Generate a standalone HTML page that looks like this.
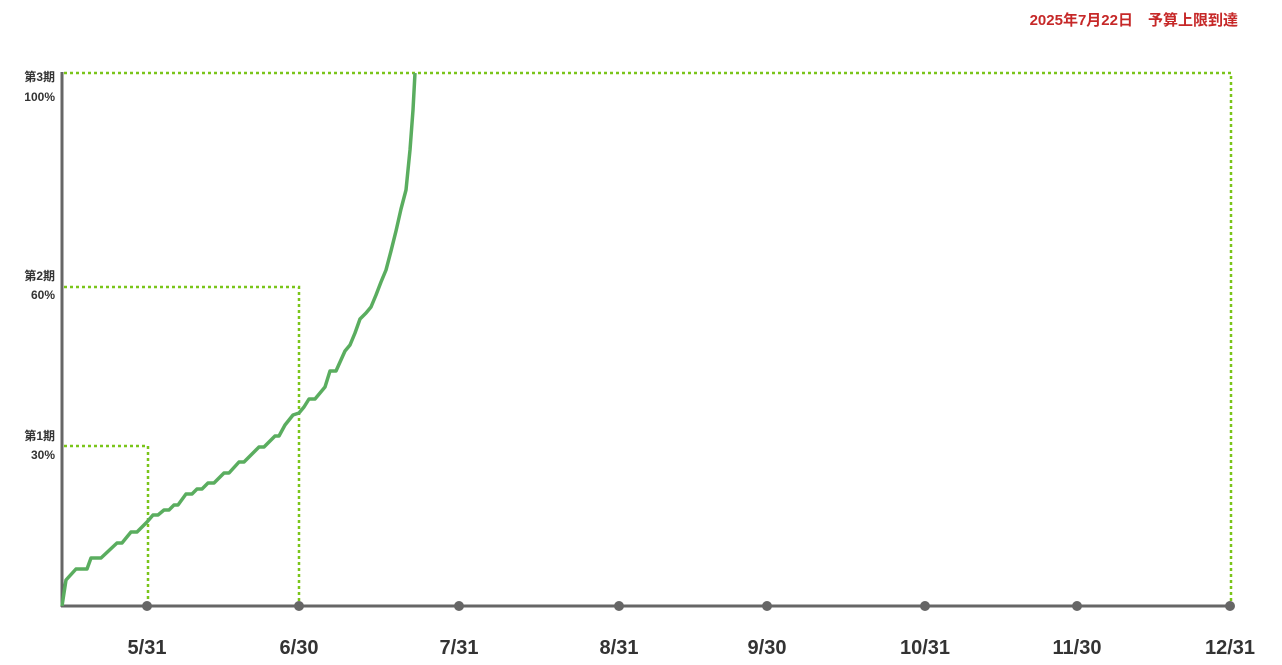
<!DOCTYPE html>
<html><head><meta charset="utf-8"><style>
body{margin:0;background:#fff;width:1282px;height:665px;overflow:hidden;font-family:"Liberation Sans","Noto Sans CJK JP",sans-serif}
</style></head><body>
<svg width="1282" height="665" xmlns="http://www.w3.org/2000/svg" style="position:absolute;left:0;top:0">
<text x="1238" y="25" text-anchor="end" fill="#c62828" font-size="15" font-weight="bold" font-family="Liberation Sans,Noto Sans CJK JP,sans-serif">2025年7月22日　予算上限到達</text>
<g stroke="#7ac51a" stroke-width="2.5" stroke-dasharray="3,3" fill="none">
<polyline points="64,73 1231,73 1231,606"/>
<polyline points="64,287 299,287 299,606"/>
<polyline points="64,446 148,446 148,606"/>
</g>
<g font-family="Liberation Sans,Noto Sans CJK JP,sans-serif" font-size="12" font-weight="bold" fill="#333" text-anchor="end">
<text x="55" y="81">第3期</text><text x="55" y="101">100%</text>
<text x="55" y="280">第2期</text><text x="55" y="299">60%</text>
<text x="55" y="440">第1期</text><text x="55" y="459">30%</text>
</g>
<line x1="62" y1="72" x2="62" y2="607" stroke="#666" stroke-width="3"/>
<line x1="61" y1="606" x2="1231" y2="606" stroke="#666" stroke-width="3"/>
<polyline fill="none" stroke="#5aad5f" stroke-width="3.5" stroke-linejoin="round" points="62,606 66,580 76,569 87,569 91,558 101,558 117,543 122,543 131,532 137,532 147,522 153,515 158,515 164,510 169,510 174,505 178,505 186,494 192,494 197,489 202,489 208,483 214,483 224,473 229,473 239,462 244,462 259,447 264,447 275,436 279,436 285,425 293,415 299,413 304,407 309,399 315,399 320,393 325,387 330,371 336,371 345,351 350,345 355,333 360,319 366,313 371,307 376,295 381,282 386,270 391,251 396,231 401,209 406,190 410,150 413,110 415,73"/>
<g fill="#666">
<circle cx="147" cy="606" r="5"/><circle cx="299" cy="606" r="5"/><circle cx="459" cy="606" r="5"/><circle cx="619" cy="606" r="5"/><circle cx="767" cy="606" r="5"/><circle cx="925" cy="606" r="5"/><circle cx="1077" cy="606" r="5"/><circle cx="1230" cy="606" r="5"/>
</g>
<g font-family="Liberation Sans,sans-serif" font-size="20" font-weight="bold" fill="#333" text-anchor="middle">
<text x="147" y="654">5/31</text><text x="299" y="654">6/30</text><text x="459" y="654">7/31</text><text x="619" y="654">8/31</text><text x="767" y="654">9/30</text><text x="925" y="654">10/31</text><text x="1077" y="654">11/30</text><text x="1230" y="654">12/31</text>
</g>
</svg>
</body></html>
